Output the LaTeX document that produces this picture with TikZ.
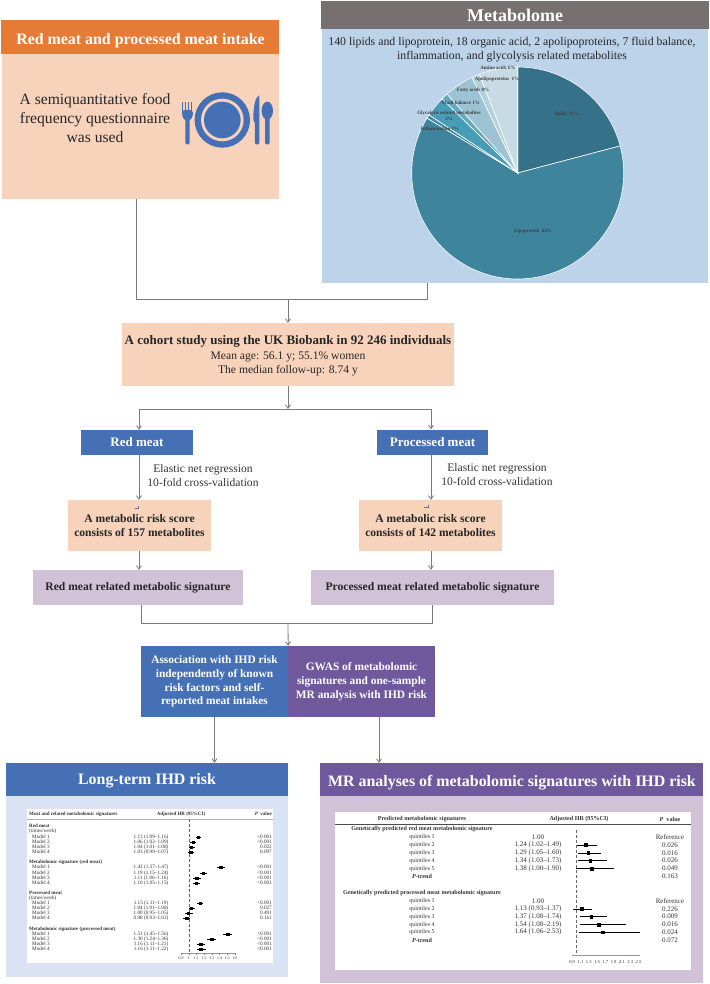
\documentclass[tikz,border=0pt]{standalone}
\usepackage{fontspec}
\setmainfont{Liberation Serif}
\usetikzlibrary{arrows.meta}
\definecolor{orangehead}{HTML}{E67B35}
\definecolor{peachbody}{HTML}{F7D3BC}
\definecolor{greyhead}{HTML}{767070}
\definecolor{skybody}{HTML}{BDD3EA}
\definecolor{bluebox}{HTML}{4570B6}
\definecolor{purplebox}{HTML}{70589D}
\definecolor{lilacbody}{HTML}{D2C2D8}
\definecolor{paleblue}{HTML}{DAE3F3}
\definecolor{linegrey}{HTML}{7A7A7A}
\definecolor{tabletext}{HTML}{333333}
\definecolor{pielipids}{HTML}{35728A}
\definecolor{pielipo}{HTML}{3D849C}
\definecolor{pieinfl}{HTML}{3F8AA2}
\definecolor{pieglyc}{HTML}{479DB8}
\definecolor{piefluid}{HTML}{62A9C1}
\definecolor{piefatty}{HTML}{9BC3D3}
\definecolor{pieapo}{HTML}{B3D0DD}
\definecolor{pieamino}{HTML}{C8DAE4}
\newcommand{\fsz}[2]{\fontsize{#1}{#2}\selectfont}
\tikzset{
  lineto/.style={draw=linegrey, line width=0.8pt},
  arrowto/.style={lineto, -{Straight Barb[length=3.5pt,width=5pt]}},
  whitehead/.style={text=white, font=\bfseries\fsz{13}{15}},
  blackbold/.style={text=black!85, font=\bfseries\fsz{11.6}{14}},
  bodytext/.style={text=black!80, font=\fsz{11.6}{14}},
  titletext/.style={text=white, inner sep=0pt, font=\bfseries\fsz{15.9}{18}},
  pielabel/.style={text=black!75, inner sep=0pt, font=\bfseries\fsz{5}{6}, align=center},
  lttext/.style={text=tabletext, inner sep=0pt, font=\fsz{5.2}{5.2}},
  ltbold/.style={lttext, font=\bfseries\fsz{5}{5}},
  mrtext/.style={text=tabletext, inner sep=0pt, font=\fsz{7}{7}},
  mrlabel/.style={text=tabletext, inner sep=0pt, font=\fsz{6}{7}},
  mrhead/.style={mrtext, font=\bfseries\fsz{6.1}{7}},
}
% block: name, x0, y0, x1, y1, fill, options
\newcommand{\block}[7]{\node[fill=#6, inner sep=0pt, align=center, minimum width={#4-#2}, minimum height={#5-#3}, #7] (#1) at ({(#2+#4)/2},{(#3+#5)/2}) {};}
\newcommand{\tblock}[8]{\node[fill=#6, inner sep=0pt, align=center, minimum width={#4-#2}, minimum height={#5-#3}, #7] (#1) at ({(#2+#4)/2},{(#3+#5)/2}) {#8};}
\newcommand{\pieslice}[3]{\draw[white, line width=0.6pt, fill=#3] (0,0) -- (#1:106) arc (#1:#2:106) -- cycle;}
% long-term table: y, label, hr, lo, hi, p
\newcommand{\ltrow}[6]{
  \node[lttext, anchor=west] (lta#1) at (32,#1) {#2};
  \node[lttext] (ltb#1) at (151,#1) {#3 (#4--#5)};
  \node[lttext, anchor=east] (ltc#1) at (272,#1) {#6};
  \draw[black, line width=0.6pt] ({188.7+(#4-1)*77},#1) -- ({188.7+(#5-1)*77},#1);
  \fill[black] ({188.7+(#3-1)*77-1.7},#1-1.5) rectangle ({188.7+(#3-1)*77+1.7},#1+1.5);
}
\newcommand{\lttick}[3]{
  \draw[black!50, line width=0.3pt] ({188.7+(#2-1)*77},953) -- ({188.7+(#2-1)*77},954.5);
  \node[lttext, font=\fsz{4}{4}] (ltt#1) at ({188.7+(#2-1)*77},958.5) {#3};
}
% mr table: y, label, hr, lo, hi, p
\newcommand{\mrrow}[6]{
  \node[mrlabel] (mra#1) at (422,#1) {#2};
  \node[mrtext] (mrb#1) at (538,#1) {#3 (#4--#5)};
  \node[mrtext] (mrc#1) at (670,#1) {#6};
  \draw[black, line width=0.6pt] ({576.3+(#4-1)*41.5},#1) -- ({576.3+(#5-1)*41.5},#1);
  \fill[black] ({576.3+(#3-1)*41.5-1.8},#1-1.8) rectangle ({576.3+(#3-1)*41.5+1.8},#1+1.8);
}
\newcommand{\mrtick}[3]{
  \draw[black!50, line width=0.3pt] ({576.3+(#2-1)*41.5},954.7) -- ({576.3+(#2-1)*41.5},956.2);
  \node[mrtext, font=\fsz{4.6}{5}] (mrt#1) at ({576.3+(#2-1)*41.5},962) {#3};
}
\begin{document}
\begin{tikzpicture}[x=1pt, y=-1pt]
        \useasboundingbox (0,0) rectangle (709,984);

        % intake
        \block{intakehead}{1}{20}{279}{54}{orangehead}{}
        \node[titletext] (intaketitle) at (140.5,40.5) {Red meat and processed meat intake};
        \block{intakebody}{2}{54}{279}{199}{peachbody}{}
        \node[text=black!85, font=\fsz{15.6}{19}, align=center, inner sep=0pt] (intaketext) at (95,118) {A semiquantitative food\\frequency questionnaire\\was used};
        % plate, fork, knife, spoon
        \fill[bluebox] (222.3,120) circle (27.7);
        \fill[peachbody] (222.3,120) circle (21.3);
        \fill[bluebox] (222.3,120) circle (18.3);
        \fill[bluebox, rounded corners=2pt] (185.3,112) rectangle (189.7,144.5);
        \fill[bluebox, rounded corners=3pt] (182,110) -- (193,110) -- (193,116) -- (190,121) -- (185,121) -- (182,116) -- cycle;
        \fill[bluebox] (182,102) rectangle (183.2,112);
        \fill[bluebox] (185,102) rectangle (186.2,112);
        \fill[bluebox] (188,102) rectangle (189.2,112);
        \fill[bluebox] (191,102) rectangle (192.2,112);
        \fill[bluebox, rounded corners=2pt] (253.3,121) .. controls (253.3,108) and (255,100) .. (258,96) -- (259.4,96) -- (259.4,144.5) -- (254.8,144.5) -- (254.8,121) -- cycle;
        \fill[bluebox] (267.3,110.7) ellipse (5.7 and 9);
        \fill[bluebox, rounded corners=2pt] (265,112) rectangle (269.7,144.5);

        % metabolome
        \tblock{metahead}{321}{1}{709}{29}{greyhead}{text=white, font=\bfseries\fsz{18}{20}}{Metabolome}
        \block{metabody}{322}{29}{708}{283}{skybody}{}
        \node[text=black!85, font=\fsz{11.8}{14}, align=center, inner sep=0pt] (metatext) at (512,49.5) {140 lipids and lipoprotein, 18 organic acid, 2 apolipoproteins, 7 fluid balance,\\inflammation, and glycolysis related metabolites};
        \begin{scope}[shift={(517.7,173)}, y=1pt]
            \pieslice{14.8}{90}{pielipids}
            \pieslice{148.8}{374.8}{pielipo}
            \pieslice{146.8}{148.8}{pieinfl}
            \pieslice{135.5}{146.8}{pieglyc}
            \pieslice{131.8}{135.5}{piefluid}
            \pieslice{115.5}{131.8}{piefatty}
            \pieslice{111.2}{115.5}{pieapo}
            \pieslice{90}{111.2}{pieamino}
        \end{scope}
        \node[pielabel] (piea) at (498,68) {Amino acids 6\%};
        \node[pielabel] (pieb) at (497,79.5) {Apolipoproteins~ 1\%};
        \node[pielabel] (piec) at (473,90.5) {Fatty acids 8\%};
        \node[pielabel] (pied) at (461,103) {Fluid balance 1\%};
        \node[pielabel] (piee) at (449,116) {Glycolysis related metabolites\\2\%};
        \node[pielabel] (pief) at (440,128.5) {Inflammation 1\%};
        \node[pielabel] (pieg) at (567,114.5) {lipids~ 21\%};
        \node[pielabel] (pieh) at (533,231.5) {Lipoprotein~ 63\%};

        % cohort
        \coordinate (ja) at (136,299);
        \coordinate (jb) at (427,299);
        \coordinate (jc) at (288,299);
        \block{cohort}{122}{323}{454}{386}{peachbody}{}
        \node[text=black!85, inner sep=0pt, align=center, font=\fsz{11.6}{14}] (cohorttext) at (288,356) {{\bfseries\fsz{13}{14}A cohort study using the UK Biobank in 92 246 individuals}\\[1pt]Mean age: 56.1 y; 55.1\% women\\The median follow-up: 8.74 y};
        \draw[lineto] (ja |- intakebody.south) -- (ja) -- (jb) -- (jb |- metabody.south);
        \draw[arrowto] (jc) -- (cohort.north);

        % two arms
        \coordinate (jd) at (288,409);
        \coordinate (je) at (139,409);
        \coordinate (jf) at (431,409);
        \tblock{redmeat}{81}{430}{193}{455}{bluebox}{whitehead}{Red meat}
        \tblock{procmeat}{377}{429.5}{488}{454.5}{bluebox}{whitehead}{Processed meat}
        \draw[arrowto] (cohort.south) -- (jd);
        \draw[arrowto] (jd) -- (je) -- (je |- redmeat.north);
        \draw[arrowto] (jd) -- (jf) -- (jf |- procmeat.north);

        \node[bodytext, align=center, inner sep=0pt] (elastica) at (203,476) {Elastic net regression\\10-fold cross-validation};
        \node[bodytext, align=center, inner sep=0pt] (elasticb) at (497,475) {Elastic net regression\\10-fold cross-validation};

        \tblock{riska}{68}{500}{211}{551}{peachbody}{blackbold}{A metabolic risk score\\consists of 157 metabolites}
        \tblock{riskb}{359}{500}{502}{551}{peachbody}{blackbold}{A metabolic risk score\\consists of 142 metabolites}
        \draw[arrowto] (redmeat.south -| je) -- (riska.north -| je);
        \draw[arrowto] (procmeat.south -| jf) -- (riskb.north -| jf);
        \draw[bluebox!60!gray, line width=0.5pt] (135,508.5) -- (138.5,508.5) -- (138.5,505.5);
        \draw[bluebox!60!gray, line width=0.5pt] (424,507.5) -- (428.5,507.5) -- (428.5,505);

        \tblock{siga}{33}{570}{243}{605}{lilacbody}{blackbold}{Red meat related metabolic signature}
        \tblock{sigb}{311}{570}{554}{605}{lilacbody}{blackbold}{Processed meat related metabolic signature}
        \draw[arrowto] (riska.south -| je) -- (siga.north -| je);
        \draw[arrowto] (riskb.south -| jf) -- (sigb.north -| jf);

        % joined boxes
        \coordinate (jg) at (141,623);
        \coordinate (jh) at (432,623);
        \coordinate (ji) at (288,623);
        \tblock{assoc}{141}{646}{288}{717}{bluebox}{text=white, font=\bfseries\fsz{11.4}{13.8}}{Association with IHD risk\\independently of known\\risk factors and self-\\reported meat intakes}
        \tblock{gwas}{288}{646}{435}{717}{purplebox}{text=white, font=\bfseries\fsz{11.4}{13.8}}{GWAS of metabolomic\\signatures and one-sample\\MR analysis with IHD risk}
        \draw[lineto] (siga.south -| jg) -- (jg) -- (jh) -- (sigb.south -| jh);
        \draw[arrowto] (ji) -- (assoc.north east);

        % long-term panel
        \block{lthead}{6}{763}{288}{796}{bluebox}{}
        \node[titletext] (lttitle) at (147,781) {Long-term IHD risk};
        \block{ltbody}{6}{796}{288}{977}{paleblue}{}
        \block{lttable}{27}{809}{273}{963}{white}{}
        \draw[arrowto] (assoc.south) -- (assoc.south |- lthead.north);
        \draw[black!30, line width=0.4pt] (27,819) -- (273,819);
        \draw[black!60, densely dashed, line width=0.4pt] (188.7,819) -- (188.7,953);
        \draw[black!40, line width=0.3pt] (181,953) -- (235,953);
        \node[ltbold, anchor=west] (lth1) at (29,814) {Meat and related metabolomic signatures};
        \node[ltbold] (lth2) at (181,814) {Adjusted HR (95\%CI)};
        \node[ltbold, anchor=east] (lth3) at (272,814) {\textit{P}~ value};
        % red meat
        \node[ltbold, anchor=west] (lts1) at (29,826) {Red meat};
        \node[lttext, anchor=west] (ltw1) at (29,831.5) {(times/week)};
        \ltrow{837}{Model 1}{1.13}{1.09}{1.16}{<0.001}
        \ltrow{842}{Model 2}{1.06}{1.02}{1.09}{<0.001}
        \ltrow{847}{Model 3}{1.04}{1.01}{1.08}{0.022}
        \ltrow{852}{Model 4}{1.03}{0.99}{1.07}{0.097}
        % signature red meat
        \node[ltbold, anchor=west] (lts2) at (29,862) {Metabolomic signature (red meat)};
        \ltrow{867}{Model 1}{1.42}{1.37}{1.47}{<0.001}
        \ltrow{873}{Model 2}{1.19}{1.15}{1.24}{<0.001}
        \ltrow{878}{Model 3}{1.11}{1.06}{1.16}{<0.001}
        \ltrow{883}{Model 4}{1.10}{1.05}{1.15}{<0.001}
        % processed meat
        \node[ltbold, anchor=west] (lts3) at (29,893) {Processed meat};
        \node[lttext, anchor=west] (ltw2) at (29,898) {(times/week)};
        \ltrow{903}{Model 1}{1.15}{1.11}{1.19}{<0.001}
        \ltrow{908}{Model 2}{1.04}{1.01}{1.08}{0.027}
        \ltrow{913}{Model 3}{1.00}{0.95}{1.05}{0.491}
        \ltrow{918}{Model 4}{0.98}{0.93}{1.02}{0.161}
        % signature processed meat
        \node[ltbold, anchor=west] (lts4) at (29,929) {Metabolomic signature (processed meat)};
        \ltrow{934}{Model 1}{1.51}{1.45}{1.56}{<0.001}
        \ltrow{939}{Model 2}{1.30}{1.24}{1.36}{<0.001}
        \ltrow{944}{Model 3}{1.16}{1.11}{1.21}{<0.001}
        \ltrow{949}{Model 4}{1.16}{1.11}{1.22}{<0.001}
        % axis
        \lttick{a}{0.9}{0.9}
        \lttick{b}{1}{1}
        \lttick{c}{1.1}{1.1}
        \lttick{d}{1.2}{1.2}
        \lttick{e}{1.3}{1.3}
        \lttick{f}{1.4}{1.4}
        \lttick{g}{1.5}{1.5}
        \lttick{h}{1.6}{1.6}

        % mr panel
        \block{mrpanelhead}{320}{763}{703}{796}{purplebox}{}
        \node[titletext] (mrtitle) at (512,783) {MR analyses of metabolomic signatures with IHD risk};
        \block{mrbody}{320}{796}{703}{983}{lilacbody}{}
        \block{mrtable}{335}{812}{691}{970}{white}{}
        \coordinate (jk) at (379,763);
        \draw[arrowto] (gwas.south -| jk) -- (jk);
        \draw[black!70, line width=0.6pt] (335,824) -- (691,824);
        \draw[black!60, densely dashed, line width=0.5pt] (576.3,830) -- (576.3,954.7);
        \draw[black!40, line width=0.3pt] (572.3,954.7) -- (640,954.7);
        \node[mrhead] (mrh1) at (422,819) {Predicted metabolomic signatures};
        \node[mrhead] (mrh2) at (579,819) {Adjusted HR (95\%CI)};
        \node[mrhead] (mrh3) at (670,819) {\textit{P}~ value};
        % red meat
        \node[mrhead] (mrs1) at (422,829) {Genetically predicted red meat metabolomic signature};
        \node[mrlabel] (mra837) at (422,837.3) {quintiles 1};
        \node[mrtext] (mrb837) at (538,837.3) {1.00};
        \node[mrtext] (mrc837) at (670,837.3) {Reference};
        \mrrow{845}{quintiles 2}{1.24}{1.02}{1.49}{0.026}
        \mrrow{853}{quintiles 3}{1.29}{1.05}{1.60}{0.016}
        \mrrow{860.7}{quintiles 4}{1.34}{1.03}{1.73}{0.026}
        \mrrow{868.7}{quintiles 5}{1.38}{1.00}{1.90}{0.049}
        \node[mrhead] (mrp1) at (422,876.7) {\textit{P}-trend};
        \node[mrtext] (mrq1) at (670,876.7) {0.163};
        % processed meat
        \node[mrhead] (mrs2) at (422,892.7) {Genetically predicted processed meat metabolomic signature};
        \node[mrlabel] (mra901) at (422,901) {quintiles 1};
        \node[mrtext] (mrb901) at (538,901) {1.00};
        \node[mrtext] (mrc901) at (670,901) {Reference};
        \mrrow{909}{quintiles 2}{1.13}{0.93}{1.37}{0.226}
        \mrrow{916.7}{quintiles 3}{1.37}{1.08}{1.74}{0.009}
        \mrrow{924.7}{quintiles 4}{1.54}{1.08}{2.19}{0.016}
        \mrrow{932.3}{quintiles 5}{1.64}{1.06}{2.53}{0.024}
        \node[mrhead] (mrp2) at (422,940.3) {\textit{P}-trend};
        \node[mrtext] (mrq2) at (670,940.3) {0.072};
        % axis
        \mrtick{a}{0.9}{0.9}
        \mrtick{b}{1.1}{1.1}
        \mrtick{c}{1.3}{1.3}
        \mrtick{d}{1.5}{1.5}
        \mrtick{e}{1.7}{1.7}
        \mrtick{f}{1.9}{1.9}
        \mrtick{g}{2.1}{2.1}
        \mrtick{h}{2.3}{2.3}
        \mrtick{i}{2.5}{2.5}
\end{tikzpicture}
\end{document}
